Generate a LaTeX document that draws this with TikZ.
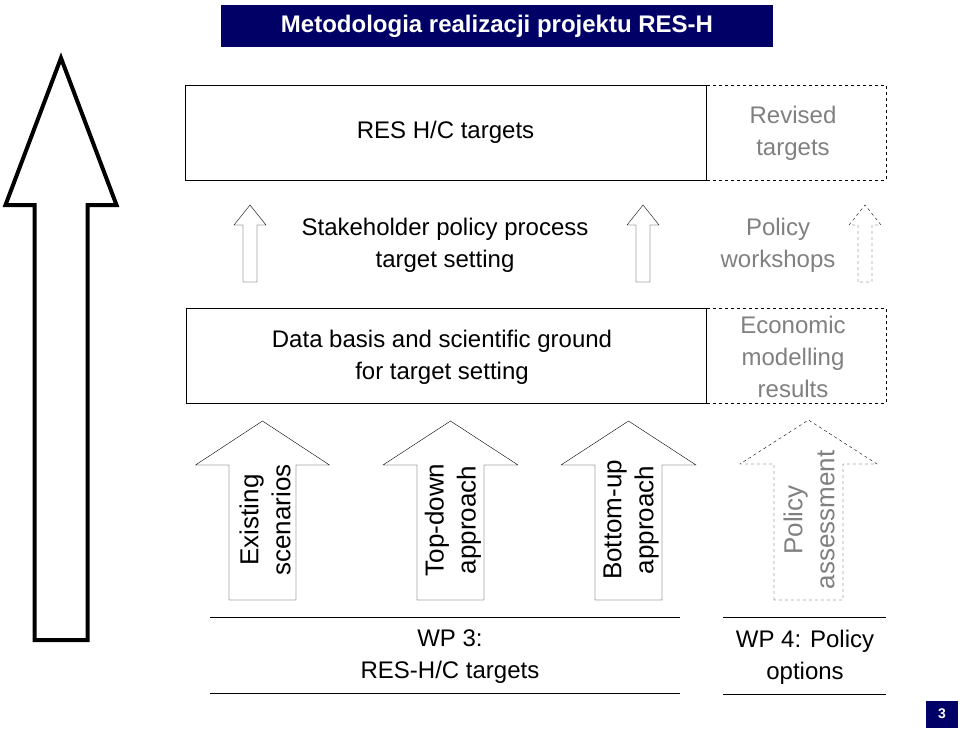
\documentclass[tikz,border=0pt]{standalone}
\usepackage{fontspec}
\setmainfont{Liberation Sans}
\definecolor{navy}{HTML}{000066}
\definecolor{txtgray}{HTML}{808080}
% hollow up arrow: centre x, shaft half width, head half width, bottom y, head base y, tip y
\newcommand{\uparr}[7][]{%
  \draw[#1] (#2-#3,#5) -- (#2-#3,#6) -- (#2-#4,#6) -- (#2,#7) -- (#2+#4,#6) -- (#2+#3,#6) -- (#2+#3,#5) -- cycle;}
\begin{document}
\begin{tikzpicture}[x=1pt,y=-1pt,
  every node/.style={font=\fontsize{24}{32}\selectfont,align=center},
  box/.style={draw,thick},
  dbox/.style={draw,thick,dashed},
  gtxt/.style={text=txtgray},
  rot/.style={rotate=90,font=\fontsize{26}{32}\selectfont}]
\useasboundingbox (0,0) rectangle (960,728);

% title
\node[fill=navy,text=white,font=\fontsize{24}{28}\selectfont\bfseries,minimum width=552pt,minimum height=42pt,inner sep=0pt] (title) at (497,26) {Metodologia realizacji projektu RES-H};

% big arrow
\uparr[line width=4pt,line join=miter]{61}{26.5}{55.5}{640}{205}{58}

% upper boxes
\draw[box] (185,85) rectangle (706,180);
\node (tgt) at (445.5,132) {RES H/C targets};
\draw[dbox] (706,85) rectangle (886,180);
\node[gtxt] (rev) at (793,133) {Revised\\targets};

\uparr[thin]{250}{7}{16}{282}{225}{205}
\uparr[thin]{643}{7}{16}{282}{225}{205}
\uparr[thin,dashed]{865}{7}{16}{282}{225}{205}
\node (stake) at (445,245) {Stakeholder policy process\\target setting};
\node[gtxt] (work) at (778,245) {Policy\\workshops};

\draw[box] (186,308) rectangle (706,403);
\node (data) at (442,357) {Data basis and scientific ground\\for target setting};
\draw[dbox] (706,308) rectangle (886,403);
\node[gtxt] (econ) at (793,357) {Economic\\modelling\\results};

% lower arrows
\uparr[thin]{262.5}{33.5}{67}{600}{465}{421}
\uparr[thin]{450.5}{33.5}{67.5}{600}{465}{421}
\uparr[thin]{628.5}{33.5}{67.5}{600}{465}{421}
\uparr[thin,dashed]{808.5}{34.5}{68.5}{600}{464}{420}
\node[rot] (exist) at (265,520) {Existing\\scenarios};
\node[rot] (topd) at (453,520) {Top-down\\approach};
\node[rot] (botu) at (631,520) {Bottom-up\\approach};
\node[rot,gtxt] (pol) at (809,520) {Policy\\assessment};

% work packages
\draw (210,617) -- (680,617);
\draw (210,693) -- (680,693);
\node (wp3) at (450,657) {WP 3:\\RES-H/C targets};
\draw (723,617) -- (886,617);
\draw (723,694) -- (886,694);
\node (wp4) at (805,657) {WP 4: Policy\\options};

\node[fill=navy,text=white,font=\fontsize{14}{16}\selectfont\bfseries,minimum width=32pt,minimum height=27pt,inner sep=0pt] (page) at (942,714) {3};
\end{tikzpicture}
\end{document}
